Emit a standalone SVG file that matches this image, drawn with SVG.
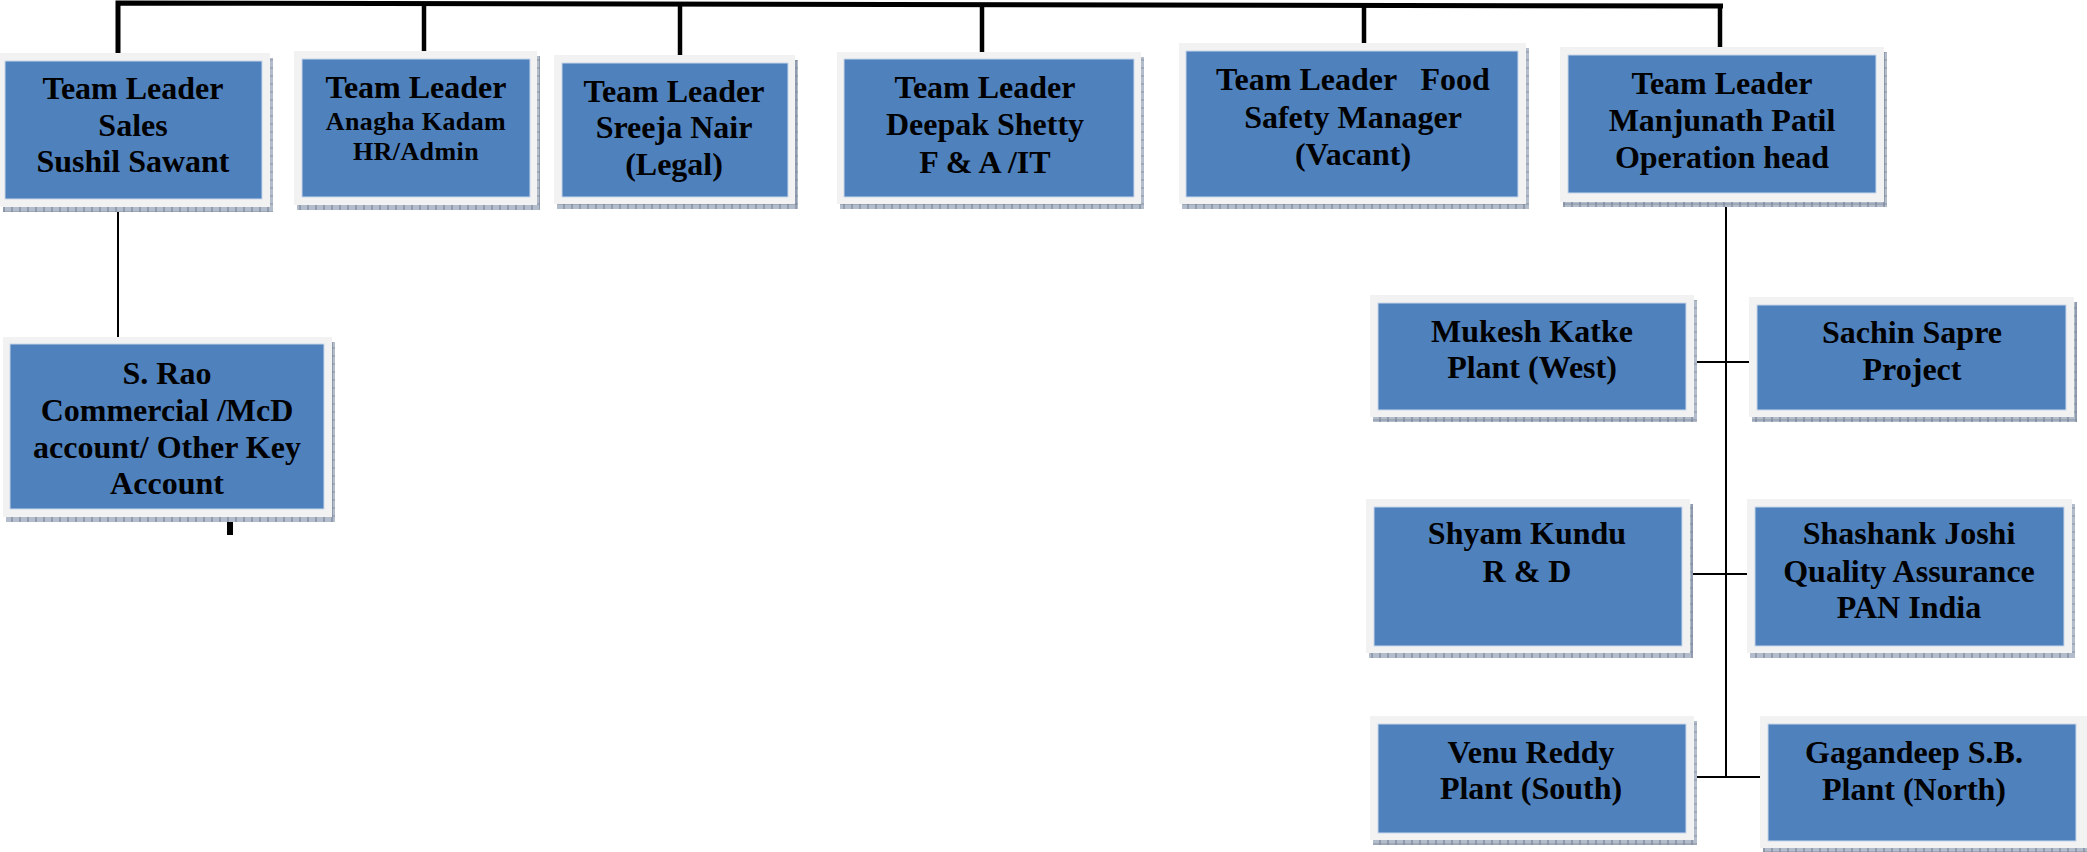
<svg xmlns="http://www.w3.org/2000/svg" width="2087" height="852" viewBox="0 0 2087 852">
<style>
.frame{fill:#F2F2F2;}
.inner{fill:#4F81BD;stroke:#C9D6EA;stroke-width:1;}
.shadow{fill:url(#shp);}
.t{font-family:"Liberation Serif","Times New Roman",serif;font-weight:bold;font-size:32px;fill:#000;text-anchor:middle;}
.s{font-size:26px;letter-spacing:0.4px;}
.thick{stroke:#000;stroke-width:5;fill:none;}
.stub{stroke:#000;stroke-width:4.5;fill:none;}
.thin{stroke:#000;stroke-width:2;fill:none;}
</style>
<defs>
<pattern id="shp" width="8" height="8" patternUnits="userSpaceOnUse">
<rect width="8" height="8" fill="#B3BCCB"/>
<line x1="0" y1="4" x2="8" y2="4" stroke="#8A95A8" stroke-width="1"/>
<line x1="4" y1="0" x2="4" y2="8" stroke="#6F7B91" stroke-width="1"/>
</pattern>
</defs>
<rect width="2087" height="852" fill="#FFFFFF"/>
<g id="connectors">
<path class="thick" d="M118,53 L118,3 L1723,6"/>
<line class="stub" x1="1720" y1="5" x2="1720" y2="52"/>
<line class="stub" x1="424" y1="6" x2="424" y2="55"/>
<line class="stub" x1="680" y1="6" x2="680" y2="56"/>
<line class="stub" x1="982" y1="6" x2="982" y2="53"/>
<line class="stub" x1="1364" y1="6" x2="1364" y2="45"/>
<line class="thin" x1="118" y1="207" x2="118" y2="337"/>
<line x1="230" y1="517" x2="230" y2="535" stroke="#000" stroke-width="6"/>
<line class="thin" x1="1726" y1="202" x2="1726" y2="777"/>
<line class="thin" x1="1689" y1="362" x2="1754" y2="362"/>
<line class="thin" x1="1689" y1="574" x2="1754" y2="574"/>
<line class="thin" x1="1689" y1="777" x2="1766" y2="777"/>
</g>
<g id="n-sales">
<rect class="shadow" x="3" y="58" width="270" height="154"/>
<rect class="frame" x="0" y="53" width="270" height="154"/>
<rect class="inner" x="5" y="61" width="257" height="138"/>
<text class="t" x="133" y="99">Team Leader</text>
<text class="t" x="133" y="136">Sales</text>
<text class="t" x="133" y="172">Sushil Sawant</text>
</g>
<g id="n-hr">
<rect class="shadow" x="297" y="56" width="243" height="154"/>
<rect class="frame" x="294" y="51" width="243" height="154"/>
<rect class="inner" x="302" y="59" width="228" height="138"/>
<text class="t" x="416" y="98">Team Leader</text>
<text class="t s" x="416" y="130">Anagha Kadam</text>
<text class="t s" x="416" y="160">HR/Admin</text>
</g>
<g id="n-legal">
<rect class="shadow" x="557" y="60" width="241" height="149"/>
<rect class="frame" x="554" y="55" width="241" height="149"/>
<rect class="inner" x="562" y="63" width="226" height="134"/>
<text class="t" x="674" y="102">Team Leader</text>
<text class="t" x="674" y="138">Sreeja Nair</text>
<text class="t" x="674" y="175">(Legal)</text>
</g>
<g id="n-fa">
<rect class="shadow" x="840" y="57" width="304" height="152"/>
<rect class="frame" x="837" y="52" width="304" height="152"/>
<rect class="inner" x="844" y="59" width="290" height="138"/>
<text class="t" x="985" y="98">Team Leader</text>
<text class="t" x="985" y="135">Deepak Shetty</text>
<text class="t" x="985" y="173">F &amp; A /IT</text>
</g>
<g id="n-food">
<rect class="shadow" x="1182" y="48" width="347" height="161"/>
<rect class="frame" x="1179" y="43" width="347" height="161"/>
<rect class="inner" x="1186" y="51" width="332" height="146"/>
<text class="t" x="1353" y="90" xml:space="preserve">Team Leader   Food</text>
<text class="t" x="1353" y="128">Safety Manager</text>
<text class="t" x="1353" y="165">(Vacant)</text>
</g>
<g id="n-ops">
<rect class="shadow" x="1563" y="52" width="324" height="155"/>
<rect class="frame" x="1560" y="47" width="324" height="155"/>
<rect class="inner" x="1568" y="55" width="308" height="138"/>
<text class="t" x="1722" y="94">Team Leader</text>
<text class="t" x="1722" y="131">Manjunath Patil</text>
<text class="t" x="1722" y="168">Operation head</text>
</g>
<g id="n-srao">
<rect class="shadow" x="6" y="342" width="329" height="180"/>
<rect class="frame" x="3" y="337" width="329" height="180"/>
<rect class="inner" x="10" y="344" width="314" height="165"/>
<text class="t" x="167" y="384">S. Rao</text>
<text class="t" x="167" y="421">Commercial /McD</text>
<text class="t" x="167" y="458">account/ Other Key</text>
<text class="t" x="167" y="494">Account</text>
</g>
<g id="n-mukesh">
<rect class="shadow" x="1373" y="300" width="324" height="122"/>
<rect class="frame" x="1370" y="295" width="324" height="122"/>
<rect class="inner" x="1378" y="303" width="308" height="107"/>
<text class="t" x="1532" y="342">Mukesh Katke</text>
<text class="t" x="1532" y="378">Plant (West)</text>
</g>
<g id="n-sachin">
<rect class="shadow" x="1752" y="302" width="325" height="120"/>
<rect class="frame" x="1749" y="297" width="325" height="120"/>
<rect class="inner" x="1757" y="305" width="309" height="105"/>
<text class="t" x="1912" y="343">Sachin Sapre</text>
<text class="t" x="1912" y="380">Project</text>
</g>
<g id="n-shyam">
<rect class="shadow" x="1369" y="504" width="324" height="154"/>
<rect class="frame" x="1366" y="499" width="324" height="154"/>
<rect class="inner" x="1374" y="507" width="308" height="139"/>
<text class="t" x="1527" y="544">Shyam Kundu</text>
<text class="t" x="1527" y="582">R &amp; D</text>
</g>
<g id="n-shashank">
<rect class="shadow" x="1750" y="504" width="325" height="154"/>
<rect class="frame" x="1747" y="499" width="325" height="154"/>
<rect class="inner" x="1755" y="507" width="309" height="139"/>
<text class="t" x="1909" y="544">Shashank Joshi</text>
<text class="t" x="1909" y="582">Quality Assurance</text>
<text class="t" x="1909" y="618">PAN India</text>
</g>
<g id="n-venu">
<rect class="shadow" x="1373" y="721" width="324" height="124"/>
<rect class="frame" x="1370" y="716" width="324" height="124"/>
<rect class="inner" x="1378" y="724" width="308" height="109"/>
<text class="t" x="1531" y="763">Venu Reddy</text>
<text class="t" x="1531" y="799">Plant (South)</text>
</g>
<g id="n-gagandeep">
<rect class="shadow" x="1763" y="721" width="327" height="132"/>
<rect class="frame" x="1760" y="716" width="327" height="132"/>
<rect class="inner" x="1768" y="724" width="308" height="117"/>
<text class="t" x="1914" y="763">Gagandeep S.B.</text>
<text class="t" x="1914" y="800">Plant (North)</text>
</g>
</svg>
